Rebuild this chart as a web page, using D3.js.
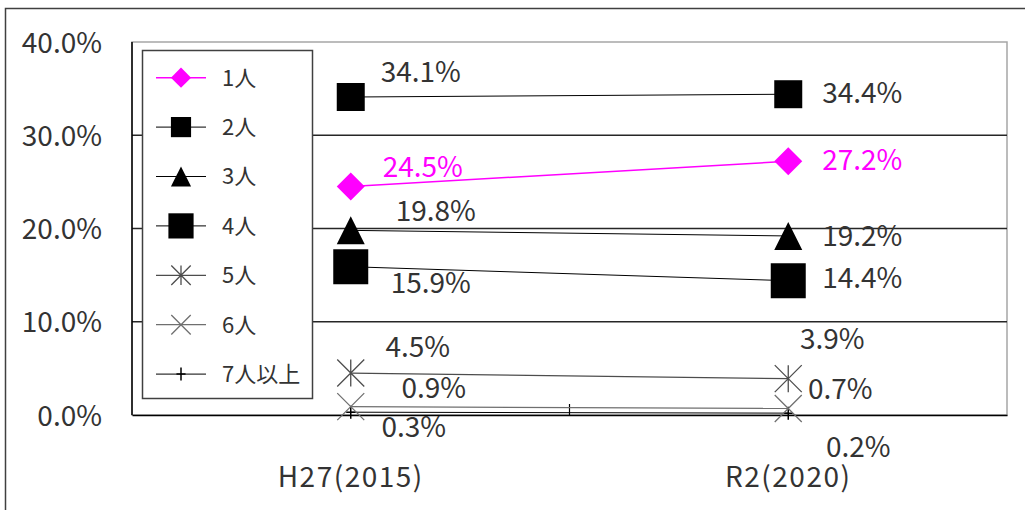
<!DOCTYPE html>
<html>
<head>
<meta charset="utf-8">
<script src="https://cdn.jsdelivr.net/npm/d3@7"></script>
<style>
  body { margin: 0; background: #fff; }
  text { font-family: "Noto Sans CJK JP", "Noto Sans", sans-serif; }
</style>
</head>
<body>
<div id="chart"></div>
<script>
// categories and series (percent)
const categories = ["H27(2015)", "R2(2020)"];
const seriesNames = ["1人", "2人", "3人", "4人", "5人", "6人", "7人以上"];
const one = [24.5, 27.2];
const two = [34.1, 34.4];
const three = [19.8, 19.2];
const four = [15.9, 14.4];
const five = [4.5, 3.9];
const six = [0.9, 0.7];
const sevenPlus = [0.3, 0.2];
const yTicks = [0, 10, 20, 30, 40];

const allValues = [one, two, three, four, five, six, sevenPlus];

// look of each series
let styles = [
  {color: "#ff00ff", marker: "diamond", size: 28, line: 1.5, text: "#ff00ff"},
  {color: "#000", marker: "square", size: 28, line: 1, text: "#333"},
  {color: "#000", marker: "triangle", size: 28, line: 1, text: "#333"},
  {color: "#000", marker: "square", size: 35, line: 1, text: "#333"},
  {color: "#4d4d4d", marker: "asterisk", size: 27, line: 1.2, text: "#333"},
  {color: "#6f6f6f", marker: "times", size: 27, line: 1.2, text: "#333"},
  {color: "#000", marker: "plus", size: 13, line: 1, text: "#333"}
];

// data label offsets from the point, [H27, R2]
let labelOffsets = [
  [[72, -20], [74, -1]],
  [[70, -25], [74, -1]],
  [[85, -19], [74, 0]],
  [[80, 16], [74, -3]],
  [[67, -26], [44, -40]],
  [[83, -19], [52, -20]],
  [[63, 15], [70, 34]]
];

let width = 1025;
let height = 510;
let margin = {top: 42, right: 18, bottom: 95, left: 132};

let svg = d3.select("#chart")
  .append("svg")
  .attr("width", width)
  .attr("height", height);

// outer chart frame
svg.append("rect")
  .attr("x", 5.5).attr("y", 8.5)
  .attr("width", 1040).attr("height", 530)
  .attr("fill", "none")
  .attr("stroke", "#404040")
  .attr("stroke-width", 1.5);

let x = d3.scaleBand()
  .domain(categories)
  .range([margin.left, width - margin.right]);

let y = d3.scaleLinear()
  .domain([0, 40])
  .range([height - margin.bottom, margin.top]);

// plot area border
svg.append("rect")
  .attr("x", margin.left).attr("y", margin.top)
  .attr("width", width - margin.right - margin.left)
  .attr("height", y(0) - margin.top)
  .attr("fill", "none")
  .attr("stroke", "#a6a6a6")
  .attr("stroke-width", 1.5);

// gridlines
svg.append("g")
  .selectAll("line")
  .data(yTicks.filter(d => d > 0 && d < 40))
  .enter()
  .append("line")
  .attr("x1", margin.left)
  .attr("x2", width - margin.right)
  .attr("y1", d => y(d))
  .attr("y2", d => y(d))
  .attr("stroke", "#262626")
  .attr("stroke-width", 1.5);

// y axis labels
let yAxis = d3.axisLeft(y)
  .tickValues(yTicks)
  .tickFormat(d => d3.format(".1f")(d) + "%")
  .tickSize(0)
  .tickPadding(30);

let yg = svg.append("g")
  .attr("transform", "translate(" + margin.left + ",0)")
  .call(yAxis);
yg.select(".domain").remove();
yg.selectAll("text")
  .style("font-size", "28px")
  .attr("fill", "#333")
  .attr("dy", "0.36em");

// left + bottom axis lines
svg.append("line")
  .attr("x1", margin.left).attr("x2", margin.left)
  .attr("y1", margin.top).attr("y2", y(0))
  .attr("stroke", "#000").attr("stroke-width", 1.5);

let xAxis = d3.axisBottom(x)
  .tickSize(0)
  .tickPadding(62);

let xg = svg.append("g")
  .attr("transform", "translate(0," + y(0) + ")")
  .call(xAxis);
xg.select(".domain")
  .attr("stroke", "#000")
  .attr("stroke-width", 1.5);
xg.selectAll("text")
  .style("font-size", "28px")
  .style("letter-spacing", "1.5px")
  .attr("fill", "#333")
  .attr("dy", "0.36em");

// tick between categories
svg.append("line")
  .attr("x1", x(categories[1])).attr("x2", x(categories[1]))
  .attr("y1", y(0) - 11).attr("y2", y(0))
  .attr("stroke", "#000").attr("stroke-width", 1.2);

function markerPath(type, s) {
  let h = s / 2;
  if (type === "diamond") return "M0," + (-h) + "L" + h + ",0L0," + h + "L" + (-h) + ",0Z";
  if (type === "square") return "M" + (-h) + "," + (-h) + "H" + h + "V" + h + "H" + (-h) + "Z";
  if (type === "triangle") return "M0," + (-h) + "L" + h + "," + h + "H" + (-h) + "Z";
  if (type === "asterisk") return "M0," + (-h) + "V" + h + "M" + (-h) + "," + (-h) + "L" + h + "," + h + "M" + (-h) + "," + h + "L" + h + "," + (-h);
  if (type === "times") return "M" + (-h) + "," + (-h) + "L" + h + "," + h + "M" + (-h) + "," + h + "L" + h + "," + (-h);
  if (type === "plus") return "M0," + (-h) + "V" + h + "M" + (-h * 0.7) + ",0H" + (h * 0.7);
  return "";
}

function isFilled(type) {
  return type === "diamond" || type === "square" || type === "triangle";
}

function drawMarker(g, st, scale) {
  let p = g.append("path").attr("d", markerPath(st.marker, st.size * scale));
  if (isFilled(st.marker)) {
    p.attr("fill", st.color).attr("stroke", "none");
  } else {
    p.attr("fill", "none").attr("stroke", st.color)
      .attr("stroke-width", st.marker === "plus" ? 1.5 : 1.3);
  }
}

let line = d3.line()
  .x((d, i) => x(categories[i]) + x.bandwidth() / 2)
  .y(d => y(d));

// draw series back to front so 1人 sits on top
for (let s = allValues.length - 1; s >= 0; s--) {
  let vals = allValues[s];
  let st = styles[s];
  svg.append("path")
    .datum(vals)
    .attr("d", line)
    .attr("fill", "none")
    .attr("stroke", st.color)
    .attr("stroke-width", st.line);

  vals.forEach(function(v, i) {
    let g = svg.append("g")
      .attr("transform", "translate(" + (x(categories[i]) + x.bandwidth() / 2) + "," + y(v) + ")");
    drawMarker(g, st, 1);
  });
}

// data labels
allValues.forEach(function(vals, s) {
  vals.forEach(function(v, i) {
    let off = labelOffsets[s][i];
    svg.append("text")
      .attr("x", x(categories[i]) + x.bandwidth() / 2 + off[0])
      .attr("y", y(v) + off[1])
      .attr("dy", "0.36em")
      .attr("text-anchor", "middle")
      .style("font-size", "28px")
      .attr("fill", styles[s].text)
      .text(d3.format(".1f")(v) + "%");
  });
});

// legend
let legend = svg.append("g");
legend.append("rect")
  .attr("x", 142.5).attr("y", 50.5)
  .attr("width", 170).attr("height", 348)
  .attr("fill", "#fff")
  .attr("stroke", "#404040")
  .attr("stroke-width", 1.5);

seriesNames.forEach(function(name, i) {
  let cy = 77.7 + i * 49.4;
  let st = styles[i];
  let item = legend.append("g").attr("transform", "translate(181," + cy + ")");
  item.append("line")
    .attr("x1", -25).attr("x2", 25)
    .attr("stroke", st.color)
    .attr("stroke-width", st.line);
  drawMarker(item, st, st.marker === "plus" ? 1 : 0.72);
  legend.append("text")
    .attr("x", 222)
    .attr("y", cy)
    .attr("dy", "0.36em")
    .style("font-size", "22px")
    .attr("fill", "#333")
    .text(name);
});
</script>
</body>
</html>
